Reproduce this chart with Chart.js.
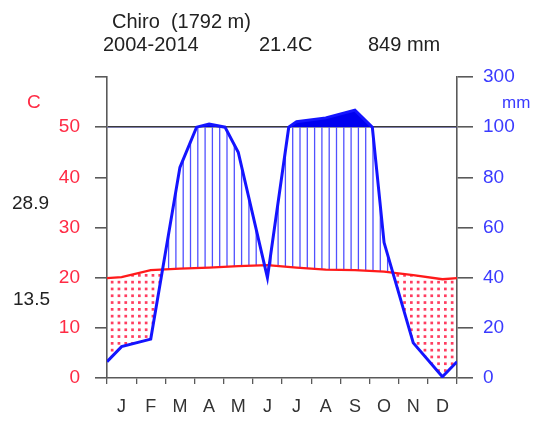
<!DOCTYPE html>
<html>
<head>
<meta charset="utf-8">
<script src="https://cdn.jsdelivr.net/npm/chart.js@4.4.1/dist/chart.umd.min.js"></script>
<style>
  html, body { margin: 0; padding: 0; background: #fff; }
</style>
</head>
<body>
<canvas id="climate" width="537" height="421"></canvas>
<script>
// Walter-Lieth diagram, Chiro station
const months = ['J', 'F', 'M', 'A', 'M', 'J', 'J', 'A', 'S', 'O', 'N', 'D'];
const temperature = [20.1, 21.5, 21.8, 22.0, 22.3, 22.5, 22.0, 21.6, 21.5, 21.2, 20.5, 19.7];
const precipitation = [12.5, 15.5, 84, 112, 90, 40, 122, 137, 168, 54, 14, 0.5];

const leftTicks = [0, 10, 20, 30, 40, 50, 60];
const leftLabels = ['0', '10', '20', '30', '40', '50', ''];
const rightLabels = ['0', '20', '40', '60', '80', '100', '300'];

const station = 'Chiro  (1792 m)';
const period = '2004-2014';
const meanTemp = '21.4C';
const totalPrecip = '849 mm';
const maxTemp = '28.9';
const minTemp = '13.5';

const FONT = '"Liberation Sans", Arial, sans-serif';

// mm -> diagram units: 2 mm per degree up to 100 mm, then 20 mm per degree
function toDiagram(p) {
    return p <= 100 ? p / 2 : 50 + (p - 100) / 20;
}

// month centres at 0.5 .. 11.5, both ends take the Dec/Jan mean
function withEnds(values) {
    const edge = (values[0] + values[11]) / 2;
    const pts = [{ x: 0, y: edge }];
    values.forEach((v, i) => pts.push({ x: i + 0.5, y: v }));
    pts.push({ x: 12, y: edge });
    return pts;
}

// the scale breaks at 100 mm, so a segment crossing it gets split there
function precipPoints(values, cap) {
    const raw = withEnds(values);
    const out = [];
    raw.forEach((p, i) => {
        if (i > 0) {
            const q = raw[i - 1];
            if ((q.y - 100) * (p.y - 100) < 0) {
                const t = (100 - q.y) / (p.y - q.y);
                out.push({ x: q.x + t * (p.x - q.x), y: 100 });
            }
        }
        out.push(p);
    });
    return out.map(p => ({ x: p.x, y: toDiagram(cap ? Math.min(p.y, 100) : p.y) }));
}

function hatchPattern() {
    const c = document.createElement('canvas');
    c.width = 73; c.height = 10;
    const g = c.getContext('2d');
    g.strokeStyle = '#5050ff';
    g.lineWidth = 1.3;
    for (let i = 0; i < 10; i++) {
        const x = i * 7.3 + 0.7;
        g.beginPath(); g.moveTo(x, 0); g.lineTo(x, 10); g.stroke();
    }
    return g.createPattern(c, 'repeat');
}

function dotPattern() {
    const c = document.createElement('canvas');
    c.width = 68; c.height = 68;
    const g = c.getContext('2d');
    g.fillStyle = '#ff3d60';
    for (let i = 0; i < 10; i++) {
        for (let j = 0; j < 10; j++) g.fillRect(i * 6.8 + 2, j * 6.8 + 2, 2.7, 2.7);
    }
    return g.createPattern(c, 'repeat');
}

const tempLine = withEnds(temperature);
const precipLine = precipPoints(precipitation, false);
const cappedLine = precipPoints(precipitation, true);

const diagramText = {
    id: 'diagramText',
    afterDraw(chart) {
        const ctx = chart.ctx;
        ctx.save();
        ctx.textBaseline = 'middle';
        ctx.font = '20px ' + FONT;
        ctx.fillStyle = '#222';
        ctx.fillText(station, 112, 22);
        ctx.fillText(period, 103, 45);
        ctx.fillText(meanTemp, 259, 45);
        ctx.fillText(totalPrecip, 368, 45);
        ctx.font = '19px ' + FONT;
        ctx.fillText(maxTemp, 12, 204);
        ctx.fillText(minTemp, 13, 300);
        ctx.fillStyle = '#ff2a44';
        ctx.fillText('C', 27, 103);
        ctx.fillStyle = '#3a3aff';
        ctx.font = '17px ' + FONT;
        ctx.fillText('mm', 502, 103);
        ctx.restore();
    }
};

const axisGray = '#5a5a5a';

new Chart(document.getElementById('climate'), {
    type: 'line',
    data: {
        datasets: [
            {
                label: 'Precipitation',
                data: precipLine,
                borderColor: '#1414ff',
                borderWidth: 3,
                pointRadius: 0,
                fill: { target: { value: 50 }, above: '#0000f0', below: 'transparent' }
            },
            {
                label: 'Temperature',
                data: tempLine,
                borderColor: '#ff1a1a',
                borderWidth: 2.4,
                pointRadius: 0,
                fill: false
            },
            {
                label: 'Humid / dry',
                data: cappedLine,
                borderColor: 'transparent',
                borderWidth: 1,
                pointRadius: 0,
                fill: { target: 1, above: hatchPattern(), below: dotPattern() }
            }
        ]
    },
    options: {
        responsive: false,
        animation: false,
        layout: { padding: { top: 77 } },
        plugins: { legend: { display: false }, tooltip: { enabled: false } },
        scales: {
            x: {
                type: 'linear',
                min: 0,
                max: 12,
                afterBuildTicks: s => {
                    const t = [];
                    for (let i = 0; i <= 24; i++) t.push({ value: i / 2 });
                    s.ticks = t;
                },
                afterFit: s => { s.height = 43; },
                border: { display: true, color: axisGray, width: 1.6 },
                grid: {
                    drawOnChartArea: false,
                    tickLength: 6,
                    tickColor: c => (c.tick && c.tick.value % 1 === 0 ? axisGray : 'transparent'),
                    lineWidth: 1.3
                },
                ticks: {
                    autoSkip: false,
                    maxRotation: 0,
                    padding: 12,
                    color: '#333',
                    font: { family: FONT, size: 18 },
                    callback: v => (v % 1 ? months[Math.floor(v)] : '')
                }
            },
            y: {
                position: 'left',
                min: 0,
                max: 60,
                afterBuildTicks: s => { s.ticks = leftTicks.map(v => ({ value: v })); },
                afterFit: s => { s.width = 107; },
                border: { display: true, color: axisGray, width: 1.6 },
                grid: {
                    color: c => (c.tick && c.tick.value === 50 ? '#3a3a3a' : 'transparent'),
                    tickColor: axisGray,
                    tickLength: 12,
                    lineWidth: 1.6
                },
                ticks: {
                    padding: 15,
                    color: '#ff2a44',
                    font: { family: FONT, size: 19 },
                    callback: (v, i) => leftLabels[i]
                }
            },
            y2: {
                position: 'right',
                min: 0,
                max: 60,
                afterBuildTicks: s => { s.ticks = leftTicks.map(v => ({ value: v })); },
                afterFit: s => { s.width = 80; },
                border: { display: true, color: axisGray, width: 1.6 },
                grid: {
                    drawOnChartArea: false,
                    tickColor: axisGray,
                    tickLength: 16,
                    lineWidth: 1.6
                },
                ticks: {
                    padding: 10,
                    color: '#3a3aff',
                    font: { family: FONT, size: 19 },
                    callback: (v, i) => rightLabels[i]
                }
            }
        }
    },
    plugins: [diagramText]
});
</script>
</body>
</html>
